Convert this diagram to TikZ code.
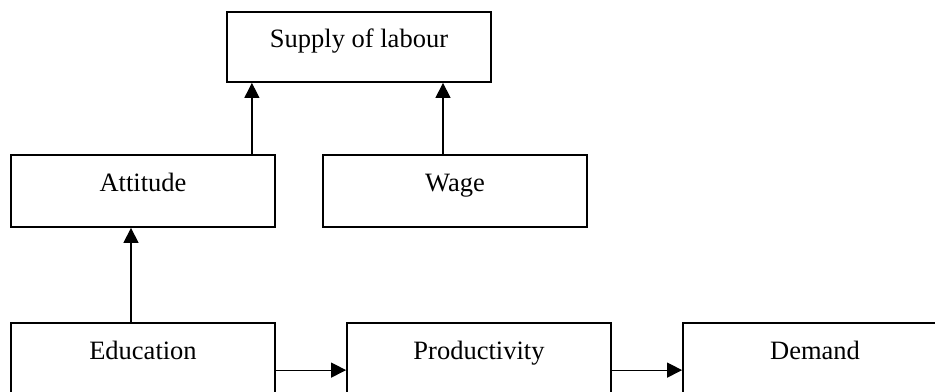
\documentclass[tikz,border=0pt]{standalone}
\usepackage{fontspec}
\setmainfont{Liberation Serif}
\usetikzlibrary{arrows.meta}
\begin{document}
\begin{tikzpicture}[x=0.5pt,y=-0.5pt,
  box/.style={draw,line width=0.9pt,rectangle,inner sep=0pt,
    minimum width=132pt,minimum height=36pt,
    text height=5pt,text depth=5pt,
    font=\fontsize{13.25}{16}\selectfont},
  arr/.style={line width=0.6pt,-{Triangle[length=7.5pt,width=7.5pt]}}]
\path[use as bounding box,clip] (0,0) rectangle (935,391);
% upper row
\node[box,minimum height=35pt] (sup) at (359,47) {Supply of labour};
\node[box] (att) at (143,191) {Attitude};
\node[box] (wage) at (455,191) {Wage};
% lower row
\node[box] (edu) at (143,359) {Education};
\node[box] (prod) at (479,359) {Productivity};
\node[box] (dem) at (815,359) {Demand};
% connectors
\draw[arr] ([xshift=-12pt]att.north east) -- ([xshift=-12pt]att.north east |- sup.south);
\draw[arr] ([xshift=-6pt]wage.north) -- ([xshift=-6pt]wage.north |- sup.south);
\draw[arr] ([xshift=-6pt]edu.north) -- ([xshift=-6pt]edu.north |- att.south);
\draw[arr] ([yshift=-24pt]edu.north east) -- ([yshift=-24pt]edu.north east -| prod.west);
\draw[arr] ([yshift=-24pt]prod.north east) -- ([yshift=-24pt]prod.north east -| dem.west);
\end{tikzpicture}
\end{document}
